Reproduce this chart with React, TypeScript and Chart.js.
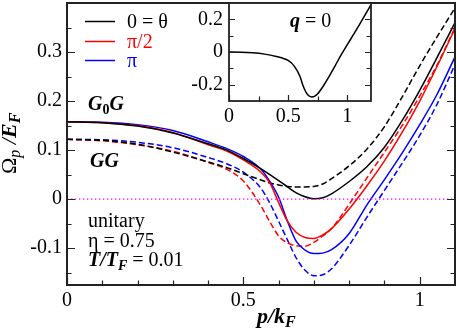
import React, { useEffect, useRef } from 'react';
import { Chart, registerables } from 'chart.js';
Chart.register(...registerables);

// ---------- data ----------
const pValues = [0, 0.1, 0.2, 0.3, 0.4, 0.45, 0.5, 0.55, 0.575, 0.6, 0.625, 0.65, 0.675, 0.7, 0.725, 0.75, 0.8, 0.85, 0.9, 0.95, 1.0, 1.05, 1.1];
const g0gTheta0 = [0.158, 0.156, 0.149, 0.135, 0.113, 0.101, 0.083, 0.062, 0.05, 0.038, 0.025, 0.013, 0.005, 0.001, 0.003, 0.011, 0.036, 0.066, 0.106, 0.16, 0.222, 0.29, 0.36];
const g0gThetaHalfPi = [0.158, 0.156, 0.15, 0.136, 0.111, 0.099, 0.08, 0.055, 0.033, -0.007, -0.045, -0.068, -0.078, -0.08, -0.073, -0.06, -0.02, 0.027, 0.078, 0.136, 0.2, 0.272, 0.348];
const g0gThetaPi = [0.158, 0.157, 0.152, 0.14, 0.117, 0.104, 0.087, 0.061, 0.036, 0.004, -0.045, -0.086, -0.104, -0.111, -0.11, -0.103, -0.07, -0.012, 0.04, 0.094, 0.152, 0.215, 0.29];
const ggTheta0 = [0.122, 0.12, 0.112, 0.096, 0.076, 0.065, 0.052, 0.039, 0.033, 0.029, 0.026, 0.025, 0.025, 0.026, 0.031, 0.042, 0.068, 0.102, 0.148, 0.208, 0.272, 0.332, 0.39];
const ggThetaHalfPi = [0.122, 0.119, 0.111, 0.098, 0.075, 0.062, 0.037, -0.014, -0.046, -0.075, -0.089, -0.095, -0.096, -0.088, -0.075, -0.06, -0.01, 0.043, 0.096, 0.15, 0.21, 0.275, 0.35];
const ggThetaPi = [0.122, 0.121, 0.116, 0.105, 0.085, 0.073, 0.055, 0.022, -0.008, -0.045, -0.083, -0.12, -0.145, -0.156, -0.154, -0.142, -0.094, -0.037, 0.018, 0.073, 0.13, 0.195, 0.275];
const zeroLineP = [0, 1.1];
const zeroLineValues = [0, 0];

const insetP = [0, 0.1, 0.2, 0.3, 0.4, 0.45, 0.5, 0.55, 0.6, 0.625, 0.65, 0.675, 0.7, 0.725, 0.75, 0.8, 0.85, 0.9, 0.95, 1.0, 1.05, 1.1, 1.15, 1.2];
const insetOmega = [0, -0.001, -0.005, -0.013, -0.027, -0.037, -0.052, -0.085, -0.15, -0.205, -0.245, -0.268, -0.275, -0.27, -0.255, -0.205, -0.145, -0.08, -0.015, 0.045, 0.105, 0.165, 0.228, 0.29];

const xTickValues = [0, 0.5, 1];
const xTickLabels = ['0', '0.5', '1'];
const xMinorTicks = [0.1, 0.2, 0.3, 0.4, 0.6, 0.7, 0.8, 0.9];
const yTickValues = [-0.1, 0, 0.1, 0.2, 0.3];
const yTickLabels = ['-0.1', '0', '0.1', '0.2', '0.3'];
const yMinorTicks = [-0.15, -0.05, 0.05, 0.15, 0.25, 0.35];

const insetXTickValues = [0, 0.5, 1];
const insetXTickLabels = ['0', '0.5', '1'];
const insetXMinorTicks = [0.25, 0.75];
const insetYTickValues = [-0.2, 0, 0.2];
const insetYTickLabels = ['-0.2', '0', '0.2'];
const insetYMinorTicks = [-0.1, 0.1];

const legendLabels = ['0 = θ', 'π/2', 'π'];
const seriesColors = ['#000000', '#ff0000', '#0000ff'];

// ---------- helpers ----------
const FAMILY = '"Liberation Serif", "Times New Roman", Times, serif';
const R20 = `20px ${FAMILY}`;
const BI20 = `italic bold 20px ${FAMILY}`;
const BI14 = `italic bold 14px ${FAMILY}`;
const B14 = `bold 14px ${FAMILY}`;

type Seg = { t: string; f: string; dy?: number; c?: string };
function drawRich(ctx: CanvasRenderingContext2D, x: number, y: number, segs: Seg[]) {
  let cx = x;
  for (const s of segs) {
    ctx.font = s.f;
    ctx.fillStyle = s.c || '#000';
    ctx.fillText(s.t, cx, y + (s.dy || 0));
    cx += ctx.measureText(s.t).width;
  }
}

const toPts = (xs: number[], ys: number[]) => xs.map((x, i) => ({ x, y: ys[i] }));

function drawFrameTicks(chart: any, o: any) {
  const ctx: CanvasRenderingContext2D = chart.ctx;
  const a = chart.chartArea;
  const xs = chart.scales.x, ys = chart.scales.y;
  ctx.save();
  ctx.strokeStyle = '#222';
  ctx.lineWidth = o.tickWidth;
  ctx.beginPath();
  const xt = (vals: number[], len: number) => vals.forEach(v => {
    const px = Math.round(xs.getPixelForValue(v)) + 0.5;
    ctx.moveTo(px, a.bottom); ctx.lineTo(px, a.bottom - len);
  });
  const yt = (vals: number[], len: number) => vals.forEach(v => {
    const py = Math.round(ys.getPixelForValue(v)) + 0.5;
    ctx.moveTo(a.left, py); ctx.lineTo(a.left + len, py);
    ctx.moveTo(a.right, py); ctx.lineTo(a.right - len, py);
  });
  xt(o.xMajor, o.major); xt(o.xMinor, o.minor);
  yt(o.yMajor, o.major); yt(o.yMinor, o.minor);
  ctx.stroke();
  ctx.lineWidth = o.frameWidth;
  ctx.strokeRect(a.left, a.top, a.width, a.height);
  ctx.restore();
}

const lineDs = (label: string, xs: number[], ys: number[], color: string, dashed: boolean) => ({
  label,
  data: toPts(xs, ys),
  borderColor: color,
  borderWidth: 1.5,
  borderDash: dashed ? [6, 3] : [],
  pointRadius: 0,
  fill: false,
  cubicInterpolationMode: 'monotone' as const,
});

const noPad = (s: any) => { s.paddingTop = 0; s.paddingBottom = 0; s.paddingLeft = 0; s.paddingRight = 0; };

export default function App() {
  const mainRef = useRef<HTMLCanvasElement>(null);
  const insetRef = useRef<HTMLCanvasElement>(null);

  useEffect(() => {
    let main: Chart | null = null;
    let inset: Chart | null = null;
    let cancelled = false;

    const build = () => {
      if (cancelled) return;
      const tickFont = { family: FAMILY, size: 20 };
      main = new Chart(mainRef.current!, {
        type: 'line',
        data: {
          datasets: [
            { label: 'zero', data: toPts(zeroLineP, zeroLineValues), borderColor: '#ff00ff', borderWidth: 1.3, borderDash: [1.3, 2.7], pointRadius: 0, fill: false },
            lineDs('G0G θ=0', pValues, g0gTheta0, seriesColors[0], false),
            lineDs('G0G θ=π/2', pValues, g0gThetaHalfPi, seriesColors[1], false),
            lineDs('G0G θ=π', pValues, g0gThetaPi, seriesColors[2], false),
            lineDs('GG θ=0', pValues, ggTheta0, seriesColors[0], true),
            lineDs('GG θ=π/2', pValues, ggThetaHalfPi, seriesColors[1], true),
            lineDs('GG θ=π', pValues, ggThetaPi, seriesColors[2], true),
          ],
        },
        options: {
          responsive: false,
          devicePixelRatio: 1,
          animation: false,
          layout: { padding: { left: 0, right: 2, top: 3, bottom: 0 } },
          plugins: { legend: { display: false }, tooltip: { enabled: false } },
          scales: {
            x: {
              type: 'linear', min: 0, max: 1.1,
              afterBuildTicks: (s: any) => { s.ticks = xTickValues.map(v => ({ value: v })); },
              afterFit: (s: any) => { s.height = 47; noPad(s); },
              ticks: { font: tickFont, color: '#000', padding: 4, maxRotation: 0, autoSkip: false, callback: (_v: any, i: number) => xTickLabels[i] },
              grid: { display: false, drawTicks: false },
              border: { display: false },
            },
            y: {
              type: 'linear', min: -0.175, max: 0.4,
              afterBuildTicks: (s: any) => { s.ticks = yTickValues.map(v => ({ value: v })); },
              afterFit: (s: any) => { s.width = 67; noPad(s); },
              ticks: { font: tickFont, color: '#000', padding: 5, autoSkip: false, callback: (_v: any, i: number) => yTickLabels[i] },
              grid: { display: false, drawTicks: false },
              border: { display: false },
            },
          },
        },
        plugins: [{
          id: 'deco',
          afterDraw(chart: any) {
            drawFrameTicks(chart, { xMajor: xTickValues, xMinor: xMinorTicks, yMajor: yTickValues, yMinor: yMinorTicks, major: 8, minor: 4.5, tickWidth: 1.2, frameWidth: 2 });
            const ctx: CanvasRenderingContext2D = chart.ctx;
            ctx.save();
            ctx.textBaseline = 'alphabetic';
            ctx.textAlign = 'left';
            const ly = [21, 41, 60];
            legendLabels.forEach((lab, i) => {
              ctx.strokeStyle = seriesColors[i];
              ctx.lineWidth = 1.5;
              ctx.beginPath();
              ctx.moveTo(85, ly[i] + 0.5); ctx.lineTo(115, ly[i] + 0.5);
              ctx.stroke();
              drawRich(ctx, 127, ly[i] + 6.5, [{ t: lab, f: R20, c: seriesColors[i] }]);
            });
            drawRich(ctx, 88, 110, [{ t: 'G', f: BI20 }, { t: '0', f: B14, dy: 4 }, { t: 'G', f: BI20 }]);
            drawRich(ctx, 90, 167, [{ t: 'GG', f: BI20 }]);
            drawRich(ctx, 88, 227, [{ t: 'unitary', f: R20 }]);
            drawRich(ctx, 88, 247, [{ t: 'η = 0.75', f: R20 }]);
            drawRich(ctx, 88, 266, [{ t: 'T/T', f: BI20 }, { t: 'F', f: BI14, dy: 4 }, { t: ' = 0.01', f: R20 }]);
            drawRich(ctx, 257, 323, [{ t: 'p/k', f: `italic bold 22px ${FAMILY}` }, { t: 'F', f: `italic bold 16px ${FAMILY}`, dy: 4 }]);
            ctx.translate(16, 174);
            ctx.rotate(-Math.PI / 2);
            drawRich(ctx, 0, 0, [
              { t: 'Ω', f: `22px ${FAMILY}` },
              { t: 'p', f: `italic 16px ${FAMILY}`, dy: 4 },
              { t: ' /', f: `italic 22px ${FAMILY}` },
              { t: 'E', f: `italic bold 22px ${FAMILY}` },
              { t: 'F', f: `italic bold 16px ${FAMILY}`, dy: 4 },
            ]);
            ctx.restore();
          },
        }],
      } as any);

      inset = new Chart(insetRef.current!, {
        type: 'line',
        data: { datasets: [lineDs('q = 0', insetP, insetOmega, '#000000', false)] },
        options: {
          responsive: false,
          devicePixelRatio: 1,
          animation: false,
          layout: { padding: { left: 0, right: 9, top: 3, bottom: 0 } },
          plugins: { legend: { display: false }, tooltip: { enabled: false } },
          scales: {
            x: {
              type: 'linear', min: 0, max: 1.2,
              afterBuildTicks: (s: any) => { s.ticks = insetXTickValues.map(v => ({ value: v })); },
              afterFit: (s: any) => { s.height = 29; noPad(s); },
              ticks: { font: tickFont, color: '#000', padding: 4, maxRotation: 0, autoSkip: false, callback: (_v: any, i: number) => insetXTickLabels[i] },
              grid: { display: false, drawTicks: false },
              border: { display: false },
            },
            y: {
              type: 'linear', min: -0.3, max: 0.3,
              afterBuildTicks: (s: any) => { s.ticks = insetYTickValues.map(v => ({ value: v })); },
              afterFit: (s: any) => { s.width = 49; noPad(s); },
              ticks: { font: tickFont, color: '#000', padding: 6, autoSkip: false, callback: (_v: any, i: number) => insetYTickLabels[i] },
              grid: { display: false, drawTicks: false },
              border: { display: false },
            },
          },
        },
        plugins: [{
          id: 'insetDeco',
          beforeDraw(chart: any) {
            const a = chart.chartArea;
            chart.ctx.save();
            chart.ctx.fillStyle = '#fff';
            chart.ctx.fillRect(a.left, a.top, a.width, a.height);
            chart.ctx.restore();
          },
          afterDraw(chart: any) {
            drawFrameTicks(chart, { xMajor: insetXTickValues, xMinor: insetXMinorTicks, yMajor: insetYTickValues, yMinor: insetYMinorTicks, major: 6, minor: 4.5, tickWidth: 1.2, frameWidth: 1.8 });
            const ctx: CanvasRenderingContext2D = chart.ctx;
            ctx.save();
            ctx.textBaseline = 'alphabetic';
            ctx.textAlign = 'left';
            drawRich(ctx, 110, 26.5, [{ t: 'q', f: BI20 }, { t: ' = 0', f: R20 }]);
            ctx.restore();
          },
        }],
      } as any);
    };

    const fonts: any = (document as any).fonts;
    if (fonts && fonts.load) {
      Promise.all([
        fonts.load(`20px "Liberation Serif"`),
        fonts.load(`italic bold 20px "Liberation Serif"`),
        fonts.load(`italic 20px "Liberation Serif"`),
        fonts.load(`bold 20px "Liberation Serif"`),
      ]).catch(() => null).then(build);
    } else {
      build();
    }

    return () => {
      cancelled = true;
      if (main) main.destroy();
      if (inset) inset.destroy();
    };
  }, []);

  return (
    <div style={{ position: 'fixed', left: 0, top: 0, width: 457, height: 332, background: '#fff' }}>
      <span style={{ position: 'absolute', left: -1000, top: 0, fontFamily: FAMILY }}>
        a<b><i>a</i></b><i>a</i><b>a</b>
      </span>
      <canvas ref={mainRef} width={457} height={332} style={{ position: 'absolute', left: 0, top: 0, width: 457, height: 332 }} />
      <canvas ref={insetRef} width={200} height={130} style={{ position: 'absolute', left: 180, top: 0, width: 200, height: 130 }} />
    </div>
  );
}
